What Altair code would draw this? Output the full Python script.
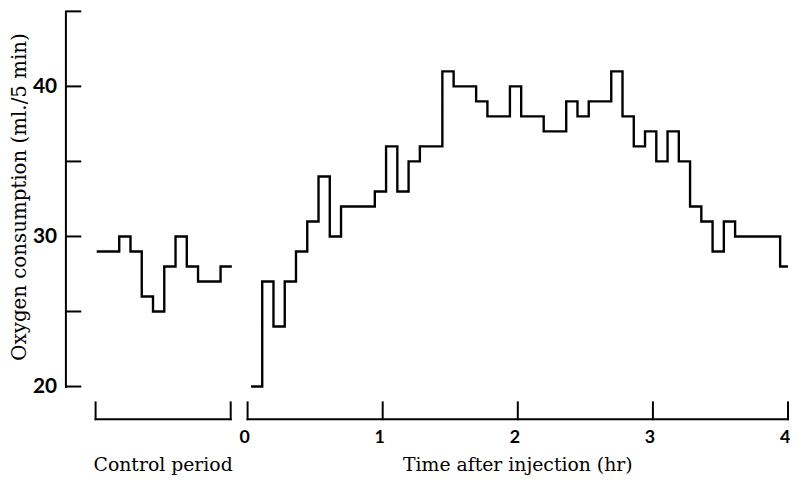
import altair as alt
import pandas as pd

# ---- data (oxygen consumption, ml per 5 min) ----
# Control period: start minute of each 5-min interval (relative to injection)
control_start = [-67, -62, -57, -52, -47, -42, -37, -32, -27, -22, -17, -12]
control_end = -7
control_vals = [29, 29, 30, 29, 26, 25, 28, 30, 28, 27, 27, 28]

# After injection
post_start = [1.5, 6.5, 11.5, 16.5, 21.5, 26.5, 31.5, 36.5, 41.5, 46.5, 51.5, 56.5,
              61.5, 66.5, 71.5, 76.5, 81.5, 86.5, 91.5, 96.5, 101.5, 106.5, 111.5, 116.5,
              121.5, 126.5, 131.5, 136.5, 141.5, 146.5, 151.5, 156.5, 161.5, 166.5, 171.5, 176.5,
              181.5, 186.5, 191.5, 196.5, 201.5, 206.5, 211.5, 216.5, 221.5, 226.5, 231.5, 236.5]
post_end = 240
post_vals = [20, 27, 24, 27, 29, 31, 34, 30, 32, 32, 32, 33,
             36, 33, 35, 36, 36, 41, 40, 40, 39, 38, 38, 40,
             38, 38, 37, 37, 39, 38, 39, 39, 41, 38, 36, 37,
             35, 37, 35, 32, 31, 29, 31, 30, 30, 30, 30, 28]

y_ticks = [20, 25, 30, 35, 40, 45]
y_labels = [20, 30, 40]

hour_ticks = [0, 1, 2, 3, 4]
hour_labels = ["0", "1", "2", "3", "4"]
bracket_lo = [-67.5, 0]
bracket_hi = [-7.5, 240]
control_ends = [-67.5, -7.5]
bottom_titles = ["Control period", "Time after injection (hr)"]
bottom_title_pos = [-37.5, 120]

# ---- tables ----
rows = []
for t, v in zip(control_start, control_vals):
    rows.append({"t": t, "v": v, "seg": "control"})
rows.append({"t": control_end, "v": control_vals[-1], "seg": "control"})
for t, v in zip(post_start, post_vals):
    rows.append({"t": t, "v": v, "seg": "post"})
rows.append({"t": post_end, "v": post_vals[-1], "seg": "post"})
steps = pd.DataFrame(rows)

yt = pd.DataFrame({"v": y_ticks})
hb = pd.DataFrame({"a": bracket_lo, "b": bracket_hi})
vt = pd.DataFrame({"m": control_ends + [h * 60 for h in hour_ticks]})
hl = pd.DataFrame({"m": [h * 60 for h in hour_ticks], "lab": hour_labels})
bt = pd.DataFrame({"m": bottom_title_pos, "lab": bottom_titles})

xs = alt.Scale(domain=[-80.9, 240], nice=False, zero=False)
ys = alt.Scale(domain=[20, 45], nice=False, zero=False)

yaxis = alt.Axis(values=y_labels, ticks=False, grid=False,
                 domainColor="black", domainWidth=2, domainCap="square",
                 labelFont="Lato", labelFontWeight="bold", labelFontSize=21,
                 labelColor="black", labelPadding=9,
                 title="Oxygen consumption (ml./5 min)",
                 titleFont="DejaVu Serif", titleFontSize=20, titleFontWeight="normal",
                 titleColor="black", titleX=-46, titleY=187, titleAngle=270,
                 titleAlign="center", titleBaseline="middle")

line = alt.Chart(steps).mark_line(interpolate="step-after", color="black",
                                  strokeWidth=2.4, strokeJoin="miter").encode(
    x=alt.X("t:Q", scale=xs, axis=None),
    y=alt.Y("v:Q", scale=ys, axis=yaxis),
    detail="seg:N",
)

ticks = alt.Chart(yt).mark_rule(color="black", strokeWidth=2).encode(
    y=alt.Y("v:Q", scale=ys, axis=yaxis),
    x=alt.value(0), x2=alt.value(16),
)

hrule = alt.Chart(hb).mark_rule(color="black", strokeWidth=2, strokeCap="square").encode(
    x=alt.X("a:Q", scale=xs, axis=None), x2="b:Q", y=alt.value(412),
)
vrule = alt.Chart(vt).mark_rule(color="black", strokeWidth=2, strokeCap="square").encode(
    x=alt.X("m:Q", scale=xs, axis=None), y=alt.value(395), y2=alt.value(412),
)
hlab = alt.Chart(hl).mark_text(font="Lato", fontWeight="bold", fontSize=18, dx=-3,
                               color="black", baseline="alphabetic", align="center").encode(
    x=alt.X("m:Q", scale=xs, axis=None), y=alt.value(436), text="lab:N",
)
btit = alt.Chart(bt).mark_text(font="DejaVu Serif", fontSize=19, color="black",
                               baseline="alphabetic", align="center").encode(
    x=alt.X("m:Q", scale=xs, axis=None), y=alt.value(464), text="lab:N",
)

chart = alt.layer(line, ticks, hrule, vrule, hlab, btit).properties(
    width=730, height=379,
    autosize=alt.AutoSizeParams(type="none"),
    padding={"left": 58, "top": 1, "right": 2, "bottom": 90},
).configure(background="white").configure_view(stroke=None)

chart.save("out.html", embed_options={"renderer": "svg", "actions": False})
